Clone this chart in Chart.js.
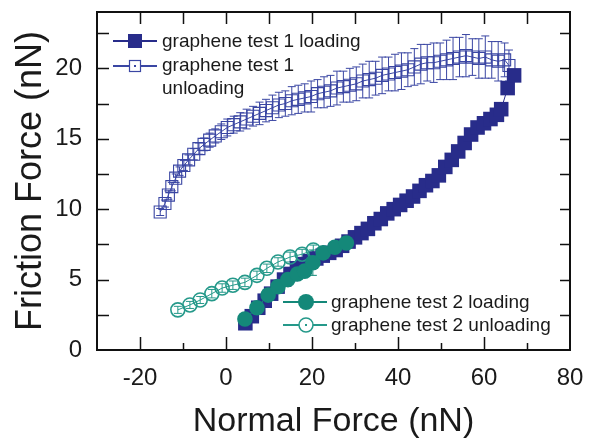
<!DOCTYPE html>
<html><head><meta charset="utf-8">
<script src="https://cdn.jsdelivr.net/npm/chart.js@4.4.0/dist/chart.umd.min.js"></script>
<style>html,body{margin:0;padding:0;background:#fff}#wrap{width:592px;height:443px}</style>
</head><body><div id="wrap"><canvas id="c" width="592" height="443"></canvas></div>
<script>
// ---- data ----
const load1X = [4.5,6,7.5,9,10.5,12,13.5,15,16.5,18,19.5,21,22.5,24,25.5,27,28.5,30,31.5,33,34.5,36,37.5,39,40.5,42,43.5,45,46.5,48,49.5,51,52.5,54,55.5,57,58.5,60,61.5,63,64,65.5,67];
const load1Y = [1.9,2.4,3.0,3.5,4.0,4.5,5.0,5.4,5.8,6.1,6.3,6.5,6.7,6.9,7.1,7.4,7.7,8.0,8.3,8.6,9.0,9.3,9.7,10.0,10.3,10.6,10.9,11.3,11.7,12.0,12.4,13.0,13.5,14.1,14.7,15.3,15.8,16.1,16.4,16.7,17.1,18.6,19.5];
const unload1X = [-15.3,-14.2,-13.4,-12.6,-11.7,-10.8,-9.8,-8.7,-7.5,-6.3,-5.1,-3.8,-2.5,-1.1,0.3,1.8,3.3,4.8,6.3,7.8,9.3,10.8,12.3,13.8,15.3,16.8,18.3,19.8,21.3,22.8,24.3,25.8,27.3,28.8,30.3,31.8,33.3,34.8,36.3,37.8,39.3,40.8,42.3,43.8,45.3,46.8,48.3,49.8,51.3,52.8,54.3,55.8,57.3,58.8,60.3,61.8,63.3,64.8,65.8];
const unload1Y = [9.8,10.4,11.0,11.6,12.2,12.7,13.1,13.5,13.9,14.3,14.6,14.9,15.2,15.5,15.8,16.0,16.2,16.4,16.6,16.8,17.0,17.2,17.4,17.5,17.7,17.8,17.9,18.0,18.2,18.3,18.4,18.6,18.7,18.8,18.9,19.1,19.2,19.3,19.5,19.6,19.7,19.8,19.9,20.1,20.3,20.4,20.4,20.5,20.6,20.7,20.8,20.9,20.8,20.7,20.8,20.6,20.5,20.6,20.2];
const unload1Err = [0.25,0.25,0.3,0.3,0.3,0.3,0.35,0.35,0.4,0.4,0.45,0.5,0.5,0.55,0.6,0.6,0.65,0.7,0.7,0.8,0.8,0.9,0.9,0.9,1.0,1.0,1.0,1.1,1.0,1.1,1.1,1.2,1.1,1.2,1.2,1.2,1.3,1.2,1.3,1.2,1.3,1.3,1.2,1.3,1.4,1.3,1.4,1.3,1.4,1.5,1.4,1.5,1.3,1.4,1.5,1.3,1.4,1.2,1.1];
const load2X = [4.4,7.2,9.8,12.1,14.4,16.6,18.3,20.2,22.6,25.3,28.0];
const load2Y = [2.2,3.0,3.9,4.5,5.0,5.4,5.6,6.2,6.9,7.3,7.6];
const load2Err = [0.3,0.3,0.3,0.3,0.3,0.3,0.3,0.9,0.3,0.3,0.3];
const unload2X = [-11.2,-8.4,-6.0,-3.3,-0.9,1.6,4.4,7.2,9.5,12.1,14.9,17.7,20.3];
const unload2Y = [2.85,3.2,3.55,4.0,4.4,4.6,4.8,5.3,5.8,6.25,6.6,6.8,7.1];
const unload2Err = [0.25,0.25,0.25,0.3,0.3,0.3,0.3,0.3,0.3,0.3,0.35,0.35,0.35];
const seriesNames = ["graphene test 1 loading","graphene test 1 unloading","graphene test 2 loading","graphene test 2 unloading"];
const xMajorTicks = [-20,0,20,40,60];
const xMinorTicks = [-10,10,30,50,70];
const yMinorTicks = [2.5,7.5,12.5,17.5,22.5];
const yMajorTicks = [5,10,15,20];

const NAVY = "#282c8a", NAVY_OPEN = "#3a46a3", TEAL = "#148879", TEAL_OPEN = "#25998a";
const FONT = '"Liberation Sans", Arial, sans-serif';
const pts = (xs, ys) => xs.map((x, i) => ({x, y: ys[i]}));

const errorBars = {
  id: 'errorBars',
  beforeDatasetsDraw(chart) {
    const ctx = chart.ctx, xs = chart.scales.x, ys = chart.scales.y;
    const sets = [[unload1X, unload1Y, unload1Err, NAVY_OPEN, 4], [load2X, load2Y, load2Err, TEAL, 4], [unload2X, unload2Y, unload2Err, TEAL_OPEN, 4]];
    ctx.save();
    ctx.lineWidth = 1;
    sets.forEach(([X, Y, E, col, cap]) => {
      ctx.strokeStyle = col;
      X.forEach((x, i) => {
        const px = xs.getPixelForValue(x), p1 = ys.getPixelForValue(Y[i] - E[i]), p2 = ys.getPixelForValue(Y[i] + E[i]);
        ctx.beginPath();
        ctx.moveTo(px, p1); ctx.lineTo(px, p2);
        ctx.moveTo(px - cap, p1); ctx.lineTo(px + cap, p1);
        ctx.moveTo(px - cap, p2); ctx.lineTo(px + cap, p2);
        ctx.stroke();
      });
    });
    ctx.restore();
  }
};

const decor = {
  id: 'decor',
  afterDraw(chart) {
    const ctx = chart.ctx, a = chart.chartArea, xs = chart.scales.x, ys = chart.scales.y;
    ctx.save();
    ctx.strokeStyle = '#111'; ctx.lineWidth = 2;
    ctx.strokeRect(a.left, a.top, a.right - a.left, a.bottom - a.top);
    ctx.lineWidth = 1.5;
    ctx.beginPath();
    xMajorTicks.forEach(v => { const p = Math.round(xs.getPixelForValue(v)) + 0.5; ctx.moveTo(p, a.bottom); ctx.lineTo(p, a.bottom - 13); ctx.moveTo(p, a.top); ctx.lineTo(p, a.top + 12); });
    xMinorTicks.forEach(v => { const p = Math.round(xs.getPixelForValue(v)) + 0.5; ctx.moveTo(p, a.bottom); ctx.lineTo(p, a.bottom - 7); ctx.moveTo(p, a.top); ctx.lineTo(p, a.top + 12); });
    yMajorTicks.concat(yMinorTicks).forEach(v => { const p = Math.round(ys.getPixelForValue(v)) + 0.5; ctx.moveTo(a.left, p); ctx.lineTo(a.left + 12, p); ctx.moveTo(a.right, p); ctx.lineTo(a.right - 10, p); });
    ctx.stroke();

    // legends
    ctx.font = '19px ' + FONT;
    ctx.textBaseline = 'middle'; ctx.textAlign = 'left'; ctx.fillStyle = '#1a1a1a';
    const line = (x1, x2, y, col) => { ctx.strokeStyle = col; ctx.lineWidth = 2; ctx.beginPath(); ctx.moveTo(x1, y); ctx.lineTo(x2, y); ctx.stroke(); };
    // test 1
    line(113, 157, 41, NAVY);
    ctx.fillStyle = NAVY; ctx.fillRect(128, 34, 14, 14);
    line(113, 157, 66, NAVY_OPEN);
    ctx.fillStyle = '#fff'; ctx.fillRect(129, 60, 12, 12);
    ctx.strokeStyle = NAVY_OPEN; ctx.lineWidth = 1.2; ctx.strokeRect(129.5, 60.5, 11, 11);
    ctx.fillStyle = NAVY_OPEN; ctx.fillRect(134, 65, 2, 2);
    ctx.fillStyle = '#1a1a1a';
    ctx.fillText('graphene test 1 loading', 162, 42);
    ctx.fillText('graphene test 1', 162, 66);
    ctx.fillText('unloading', 162, 89);
    // test 2
    line(283, 327, 302, TEAL);
    ctx.fillStyle = TEAL; ctx.beginPath(); ctx.arc(306, 302, 8, 0, Math.PI * 2); ctx.fill();
    line(283, 327, 325, TEAL_OPEN);
    ctx.fillStyle = '#fff'; ctx.beginPath(); ctx.arc(306, 325, 7, 0, Math.PI * 2); ctx.fill();
    ctx.strokeStyle = TEAL_OPEN; ctx.lineWidth = 1.5; ctx.stroke();
    ctx.fillStyle = TEAL_OPEN; ctx.fillRect(305, 324, 2, 2);
    ctx.fillStyle = '#1a1a1a';
    ctx.fillText('graphene test 2 loading', 331, 303);
    ctx.fillText('graphene test 2 unloading', 331, 326);
    ctx.restore();
  }
};

new Chart(document.getElementById('c'), {
  type: 'scatter',
  data: {
    datasets: [
      { label: seriesNames[0], data: pts(load1X, load1Y), showLine: true, borderColor: NAVY, borderWidth: 1, backgroundColor: NAVY,
        pointStyle: 'rect', pointRadius: 10.3, pointBorderWidth: 0, pointBackgroundColor: NAVY, order: 2 },
      { label: seriesNames[1], data: pts(unload1X, unload1Y), showLine: true, borderColor: NAVY_OPEN, borderWidth: 1, backgroundColor: 'rgba(0,0,0,0)',
        pointStyle: 'rect', pointRadius: 8.5, pointBorderWidth: 1.1, pointBorderColor: NAVY_OPEN, pointBackgroundColor: 'rgba(255,255,255,0)', order: 3 },
      { label: seriesNames[2], data: pts(load2X, load2Y), showLine: true, borderColor: TEAL, borderWidth: 1, backgroundColor: TEAL,
        pointStyle: 'circle', pointRadius: 7.8, pointBorderWidth: 0, pointBackgroundColor: TEAL, order: 0 },
      { label: seriesNames[3], data: pts(unload2X, unload2Y), showLine: true, borderColor: TEAL_OPEN, borderWidth: 1, backgroundColor: 'rgba(0,0,0,0)',
        pointStyle: 'circle', pointRadius: 7, pointBorderWidth: 1.6, pointBorderColor: TEAL_OPEN, pointBackgroundColor: 'rgba(255,255,255,0)', order: 1 }
    ]
  },
  options: {
    responsive: false, animation: false, devicePixelRatio: 1,
    layout: { padding: { top: 12, right: 22, left: 0, bottom: 0 } },
    plugins: { legend: { display: false }, tooltip: { enabled: false } },
    scales: {
      x: {
        type: 'linear', min: -30, max: 80,
        grid: { display: false, drawTicks: false },
        border: { display: false },
        ticks: { stepSize: 20, includeBounds: false, padding: 14, color: '#1a1a1a', font: { family: FONT, size: 24 },
                 callback: v => (v % 20 === 0 ? String(v) : '') },
        title: { display: true, text: 'Normal Force (nN)', color: '#1a1a1a', padding: { top: 0, bottom: 1 }, font: { family: FONT, size: 34 } },
        afterFit: s => { s.height = 93; s.paddingLeft = 0; s.paddingRight = 0; }
      },
      y: {
        type: 'linear', min: 0, max: 24,
        grid: { display: false, drawTicks: false },
        border: { display: false },
        ticks: { stepSize: 5, includeBounds: false, padding: 15, color: '#1a1a1a', font: { family: FONT, size: 24 },
                 callback: v => (v % 5 === 0 ? String(v) : '') },
        title: { display: true, text: 'Friction Force (nN)', color: '#1a1a1a', padding: { top: 9, bottom: 0 }, font: { family: FONT, size: 36 } },
        afterFit: s => { s.width = 97; s.paddingTop = 0; s.paddingBottom = 0; }
      }
    }
  },
  plugins: [errorBars, decor]
});
</script></body></html>
